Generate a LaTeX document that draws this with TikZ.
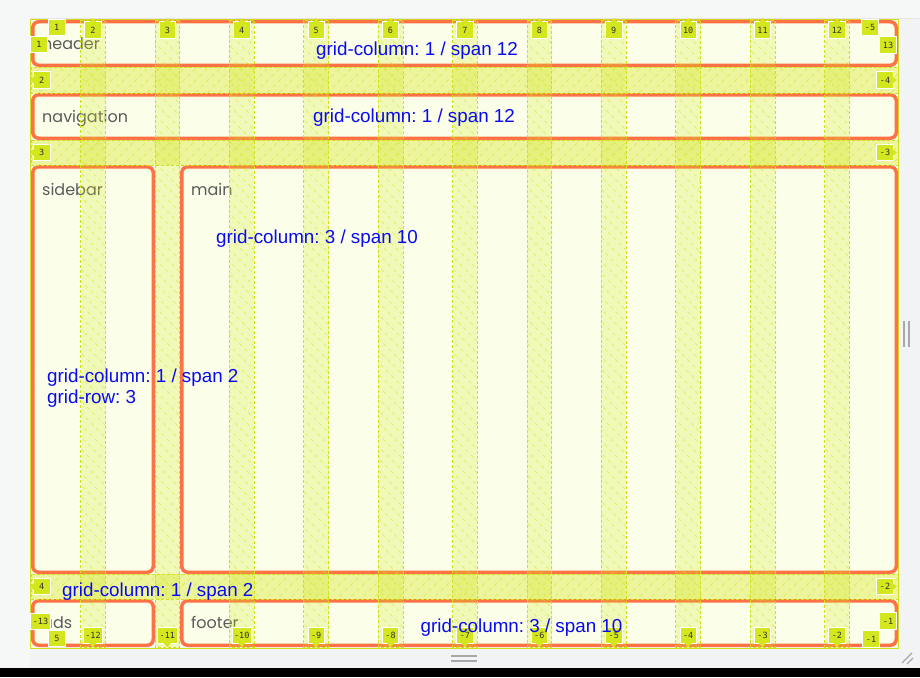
\documentclass[tikz,border=0pt]{standalone}
\usepackage{fontspec}
\setmainfont{Liberation Sans}
\newfontfamily\poppinsfont{Poppins}
\newfontfamily\badgefont{DejaVu Sans Mono}
\usetikzlibrary{positioning}
\frenchspacing

\definecolor{pagebg}{HTML}{F2F3F5}
\definecolor{stripbg}{HTML}{F6F7F7}
\definecolor{cellfill}{HTML}{FBFFEA}
\definecolor{cellline}{HTML}{FF7245}
\definecolor{gapfill}{HTML}{D4E61E}
\definecolor{gapline}{HTML}{CFE11C}
\definecolor{namegray}{HTML}{5A5A5A}
\definecolor{propblue}{HTML}{0A0AF0}
\definecolor{handlegray}{HTML}{A8A8A8}

\begin{document}
\begin{tikzpicture}[
  x=1pt, y=-1pt,
  area/.style={draw=cellline,line width=3.5pt,rounded corners=6pt,fill=cellfill},
  areaname/.style={anchor=base west,inner sep=0pt,text=namegray,font=\poppinsfont\fontsize{16}{18}\selectfont},
  prop/.style={anchor=base west,inner sep=0pt,text=propblue,font=\fontsize{18.8}{21}\selectfont},
  rowgap/.style={fill=gapfill,fill opacity=0.38,draw=gapline,dash pattern=on 3pt off 2pt,line width=0.8pt},
  colgap/.style={fill=gapfill,fill opacity=0.24,draw=gapline,dash pattern=on 3pt off 2pt,line width=0.8pt},
  hatch/.style={draw=gapline,line width=0.8pt,dash pattern=on 3.5pt off 4pt,opacity=0.45},
  badge/.style={fill=gapfill,draw=white,line width=0.8pt,inner xsep=2pt,inner ysep=1pt,
    minimum width=16.5pt,minimum height=16.5pt,text=black!80,font=\badgefont\fontsize{8.5}{9}\selectfont}
]
\useasboundingbox (0,0) rectangle (920,677);

% page
\fill[pagebg] (0,0) rectangle (920,677);
\fill[stripbg] (0,0) rectangle (920,18);
\fill[stripbg] (0,18) rectangle (30,668);
\draw[black!10,line width=1pt] (30,18.5) -- (920,18.5);
\fill[black] (0,668) rectangle (920,677);

% grid container
\fill[cellfill] (31,19) rectangle (898,648);
\draw[gapline,line width=0.8pt] (30.5,19) rectangle (898,648);

% grid areas
\path[area] (32.75,21.75) rectangle (896.25,65.25);
\path[area] (32.75,94.75) rectangle (896.25,138.25);
\path[area] (32.75,166.75) rectangle (153.25,572.25);
\path[area] (181.75,166.75) rectangle (896.25,572.25);
\path[area] (32.75,600.75) rectangle (153.25,645.25);
\path[area] (181.75,600.75) rectangle (896.25,645.25);

\node[areaname] (headername) at (42,50) {header};
\node[areaname] (navname) at (42,122) {navigation};
\node[areaname] (sidename) at (42,195) {sidebar};
\node[areaname] (mainname) at (191,195) {main};
\node[areaname] (adsname) at (42,628) {ads};
\node[areaname] (footername) at (191,628) {footer};

% gaps
\foreach \ya/\yb in {67/93,140/165,574/599}
  \path[rowgap] (31,\ya) rectangle (898,\yb);
\foreach \k in {0,...,10}
  \path[colgap] ({80.5+\k*74.4},20) rectangle ({105.4+\k*74.4},647);

\begin{scope}
  \clip (31,67) rectangle (898,93) (31,140) rectangle (898,165) (31,574) rectangle (898,599);
  \foreach \s in {-624,-612,...,900}
    \draw[hatch] (\s,660) -- ({\s+640},20);
\end{scope}
\begin{scope}
  \clip \foreach \k in {0,...,10} {({80.5+\k*74.4},20) rectangle ({105.4+\k*74.4},647)};
  \foreach \s in {-624,-612,...,900}
    \draw[hatch] (\s,20) -- ({\s+640},660);
\end{scope}

% line numbers
\foreach \k [evaluate=\k as \bx using 92.95+(\k-2)*74.4, evaluate=\k as \bk using int(\k-14)] in {2,...,12} {
  \node[badge] (col\k) at (\bx,30) {\k};
  \fill[gapfill] ([xshift=-3.5pt,yshift=-1pt]col\k.north) -- ([yshift=3.2pt]col\k.north) -- ([xshift=3.5pt,yshift=-1pt]col\k.north) -- cycle;
  \node[badge] (colneg\k) at (\bx,635.5) {\bk};
  \fill[gapfill] ([xshift=-3.5pt,yshift=1pt]colneg\k.south) -- ([yshift=-3.2pt]colneg\k.south) -- ([xshift=3.5pt,yshift=1pt]colneg\k.south) -- cycle;
}
\foreach \r/\ry/\rk in {2/80/-4,3/152.5/-3,4/586.5/-2} {
  \node[badge] (row\r) at (41.7,\ry) {\r};
  \fill[gapfill] ([yshift=-3.5pt,xshift=1pt]row\r.west) -- ([xshift=-3.2pt]row\r.west) -- ([yshift=3.5pt,xshift=1pt]row\r.west) -- cycle;
  \node[badge] (rowneg\r) at (885,\ry) {\rk};
  \fill[gapfill] ([yshift=-3.5pt,xshift=-1pt]rowneg\r.east) -- ([xshift=3.2pt]rowneg\r.east) -- ([yshift=3.5pt,xshift=-1pt]rowneg\r.east) -- cycle;
}
\node[badge] (col1) at (56.7,27.5) {1};
\node[badge] (row1) at (39,44.5) {1};
\node[badge] (rowneg1) at (870,27.5) {-5};
\node[badge] (col13) at (888,45) {13};
\node[badge] (colneg1) at (40.5,621.5) {-13};
\node[badge] (row5) at (57,638.5) {5};
\node[badge] (rowneg5) at (888,621) {-1};
\node[badge] (colneg13) at (871,639) {-1};

% placement notes
\node[prop] (headerprop) at (316,56) {grid-column: 1 / span 12};
\node[prop] (navprop) at (313,122.5) {grid-column: 1 / span 12};
\node[prop] (mainprop) at (216,243) {grid-column: 3 / span 10};
\node[prop] (sidecolprop) at (47,382) {grid-column: 1 / span 2};
\node[prop] (siderowprop) at ([yshift=-21pt]sidecolprop.base west) {grid-row: 3};
\node[prop] (adsprop) at (62,596) {grid-column: 1 / span 2};
\node[prop] (footerprop) at (420.5,632.5) {grid-column: 3 / span 10};

% handles
\draw[handlegray,line width=1.5pt] (451,656) -- (477,656) (451,661) -- (477,661);
\draw[handlegray,line width=1.5pt] (904,321) -- (904,347) (909,321) -- (909,347);
\draw[handlegray,line width=1.2pt] (902,663) -- (912,653) (907,664) -- (913,658);
\end{tikzpicture}
\end{document}
